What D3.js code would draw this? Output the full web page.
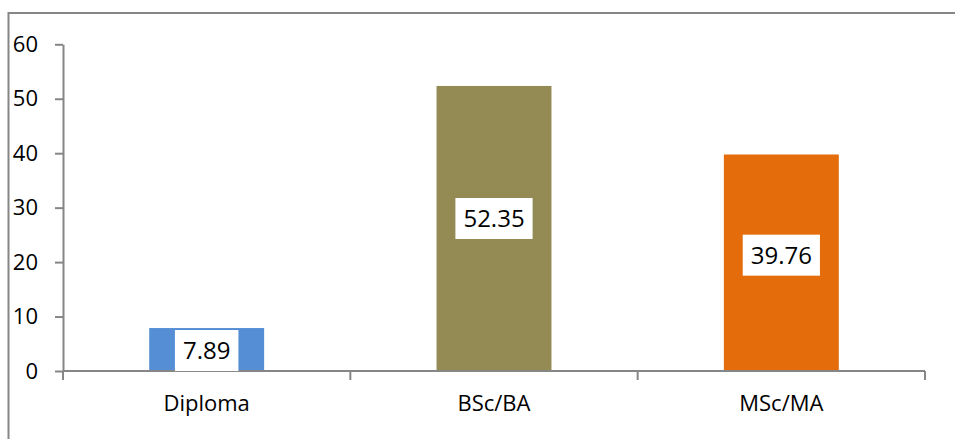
<!DOCTYPE html>
<html><head><meta charset="utf-8">
<script src="https://cdn.jsdelivr.net/npm/d3@7"></script>
<style>body{margin:0;background:#fff}svg{display:block}</style>
</head><body>
<script>
const categories = ["Diploma", "BSc/BA", "MSc/MA"];
const values = [7.89, 52.35, 39.76];
const labels = ["7.89", "52.35", "39.76"];
const colors = ["#558ED5", "#948A54", "#E46C0A"];
const yTicks = [0, 10, 20, 30, 40, 50, 60];

const W = 955, H = 439;
const svg = d3.select("body").append("svg").attr("width", W).attr("height", H);
const font = "'Open Sans', 'Liberation Sans', sans-serif";
const axisColor = "#868686";

// outer frame
svg.append("path").attr("d", `M8.5,${H} V13 H${W}`).attr("fill", "none")
  .attr("stroke", axisColor).attr("stroke-width", 2);

const x = d3.scaleBand().domain(categories).range([63, 925]).paddingInner(0.6).paddingOuter(0.3);
const y = d3.scaleLinear().domain([0, 60]).range([371, 44.3]);

// bars
svg.selectAll("rect.bar").data(values).enter().append("rect")
  .attr("x", (d, i) => x(categories[i]))
  .attr("y", d => y(d))
  .attr("width", x.bandwidth())
  .attr("height", d => y(0) - y(d))
  .attr("fill", (d, i) => colors[i]);

// y axis
const ya = svg.append("g").attr("transform", "translate(63,0)")
  .call(d3.axisLeft(y).tickValues(yTicks).tickSize(8).tickPadding(17).tickSizeOuter(0));
ya.select(".domain").attr("stroke", axisColor).attr("stroke-width", 2);
ya.selectAll(".tick line").attr("stroke", axisColor).attr("stroke-width", 2);
ya.selectAll(".tick text").attr("font-family", font).attr("font-size", 22).attr("fill", "#000");

// x axis
const step = x.step();
const xa = svg.append("g").attr("transform", `translate(0,${y(0)})`);
xa.append("line").attr("x1", 63).attr("x2", 925).attr("y1", 0).attr("y2", 0)
  .attr("stroke", axisColor).attr("stroke-width", 2);
const bounds = [0, 1, 2, 3].map(i => 63 + i * step);
xa.selectAll("line.tk").data(bounds).enter().append("line")
  .attr("x1", d => d).attr("x2", d => d).attr("y1", 0).attr("y2", 9)
  .attr("stroke", axisColor).attr("stroke-width", 2);
xa.selectAll("text").data(categories).enter().append("text")
  .attr("x", d => x(d) + x.bandwidth() / 2).attr("y", 40)
  .attr("text-anchor", "middle").attr("font-family", font).attr("font-size", 22)
  .attr("fill", "#000").text(d => d);

// data labels
const lg = svg.selectAll("g.lbl").data(values).enter().append("g")
  .attr("transform", (d, i) => `translate(${x(categories[i]) + x.bandwidth() / 2},${Math.max(y(d * 0.535), y(d) + 22.5)})`);
lg.each(function(d, i) {
  const g = d3.select(this);
  const t = g.append("text").attr("text-anchor", "middle").attr("dy", "0.35em")
    .attr("font-family", font).attr("font-size", 24).attr("fill", "#000").text(labels[i]);
  const bb = t.node().getBBox();
  g.insert("rect", "text").attr("x", -bb.width / 2 - 8).attr("y", -20.5)
    .attr("width", bb.width + 16).attr("height", 41).attr("fill", "#fff");
});
</script>
</body></html>
